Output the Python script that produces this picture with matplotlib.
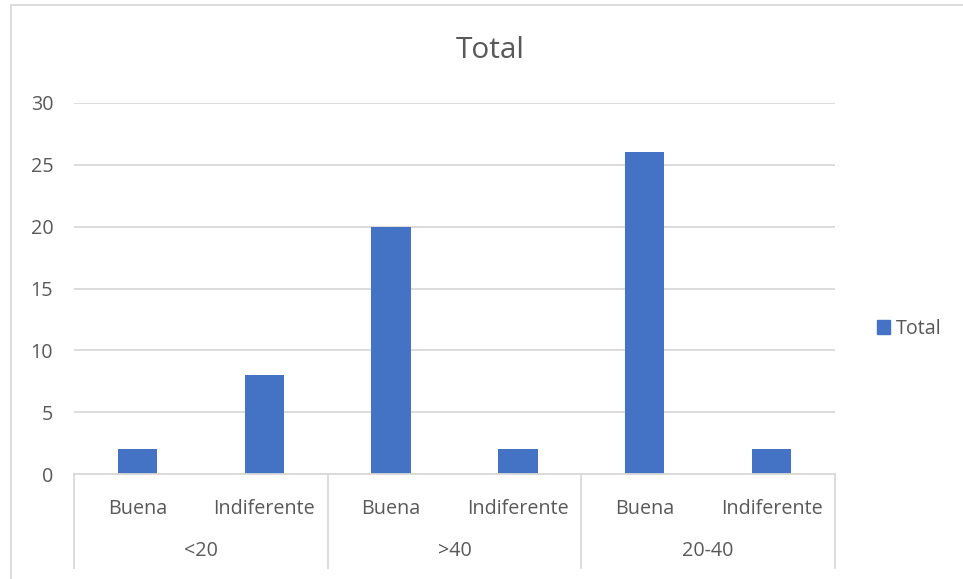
import matplotlib
matplotlib.use("Agg")
import matplotlib.pyplot as plt
from matplotlib.patches import Rectangle
from matplotlib.lines import Line2D
import numpy as np

plt.rcParams['font.family'] = ['Open Sans', 'DejaVu Sans']

# Data
groups = ["<20", ">40", "20-40"]
subcats = ["Buena", "Indiferente"]
values = [2, 8, 20, 2, 26, 2]
series_name = "Total"

bar_color = "#4472C4"
text_color = "#595959"
grid_color = "#D9D9D9"
fs = 14.2

W, H = 963, 579
fig = plt.figure(figsize=(W / 100, H / 100), dpi=100)

# Chart area border (left and top edges visible within the canvas)
fig.add_artist(Line2D([10.5 / W, 10.5 / W], [0, 1 - 4.5 / H], transform=fig.transFigure,
                      color=grid_color, lw=1.3))
fig.add_artist(Line2D([10.5 / W, 1.0], [1 - 4.5 / H, 1 - 4.5 / H], transform=fig.transFigure,
                      color=grid_color, lw=1.3))

left, right = 74 / W, 835 / W
top, bottom = 1 - 103 / H, 1 - 474 / H
ax = fig.add_axes([left, bottom, right - left, top - bottom])

n = len(values)
x = np.arange(n)
ax.bar(x, values, width=0.31, color=bar_color, zorder=3)

ax.set_xlim(-0.5, n - 0.5)
ax.set_ylim(0, 30)
ax.set_yticks(np.arange(0, 31, 5))
ax.yaxis.grid(True, color=grid_color, lw=1.3, zorder=0)
ax.tick_params(axis='y', length=0, pad=15, labelsize=fs, labelcolor=text_color)
for s in ["top", "right", "left"]:
    ax.spines[s].set_visible(False)
ax.spines["bottom"].set_color(grid_color)
ax.spines["bottom"].set_linewidth(1.3)
ax.spines["bottom"].set_zorder(4)

# Sub-category labels
ax.set_xticks(x)
ax.set_xticklabels(subcats * len(groups))
ax.tick_params(axis='x', length=0, pad=18, labelsize=fs, labelcolor=text_color)

# Group separators and group labels
ax_h = 474 - 103
sep_bottom = -(568 - 474) / ax_h
for k in range(len(groups) + 1):
    xs = k * len(subcats) - 0.5
    ax.plot([xs, xs], [0, sep_bottom], transform=ax.get_xaxis_transform(),
            color=grid_color, lw=1.3, clip_on=False, zorder=4)
label_y = -(551 - 474) / ax_h
for k, g in enumerate(groups):
    xc = k * len(subcats) + (len(subcats) - 1) / 2
    ax.text(xc, label_y, g, transform=ax.get_xaxis_transform(), ha='center', va='center',
            fontsize=fs, color=text_color)

# Title
fig.text(490 / W, 1 - 50 / H, series_name, ha='center', va='center', fontsize=21.5,
         color=text_color)

# Legend
ax.legend(handles=[Rectangle((0, 0), 1, 1, color=bar_color)], labels=[series_name],
          loc='center left', bbox_to_anchor=((877 - 74) / (835 - 74), (474 - 329) / ax_h),
          frameon=False, fontsize=fs, labelcolor=text_color, handlelength=0.65,
          handleheight=0.65, handletextpad=0.3, borderpad=0, borderaxespad=0)

fig.savefig("out.png", dpi=100, facecolor="white")
